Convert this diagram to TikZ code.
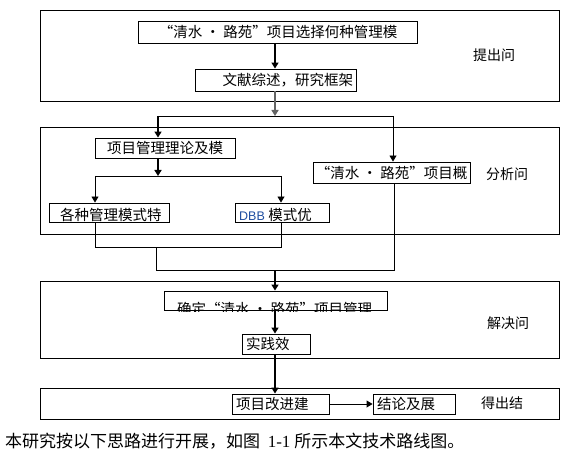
\documentclass[tikz,border=0pt]{standalone}
\usepackage{fontspec}
\setmainfont{Liberation Sans}
\newfontfamily\cjk{Noto Sans CJK SC}
\usetikzlibrary{arrows.meta}
\definecolor{dbbblue}{RGB}{31,78,160}
\definecolor{arrgray}{RGB}{100,100,100}
\begin{document}
\begin{tikzpicture}[x=1pt,y=-1pt,
  frame/.style={draw, line width=0.9pt, inner sep=0},
  box/.style={draw, line width=0.9pt, inner sep=0, font=\cjk\fontsize{14.5}{15}\selectfont},
  txt/.style={inner sep=0, font=\cjk\fontsize{14.5}{15}\selectfont},
  side/.style={inner sep=0, font=\cjk\fontsize{14}{15}\selectfont},
  thickarr/.style={line width=1.8pt, -{Triangle[width=7pt,length=6pt]}},
  thinarr/.style={line width=0.9pt, -{Triangle[width=7pt,length=6pt]}},
  thinline/.style={line width=0.9pt}]
\useasboundingbox (0,0) rectangle (564,454);

% frames
\node[frame, minimum width=519pt, minimum height=91pt] (f1) at (299.5,55.5) {};
\node[frame, minimum width=519pt, minimum height=107pt] (f2) at (299.5,180.5) {};
\node[frame, minimum width=519pt, minimum height=77pt] (f3) at (299.5,320.3) {};
\node[frame, minimum width=519pt, minimum height=31pt] (f4) at (299.5,403.5) {};

% side labels
\node[side] (l1) at (494,55) {提出问};
\node[side] (l2) at (507,174) {分析问};
\node[side] (l3) at (508,323) {解决问};
\node[side] (l4) at (502,403) {得出结};

% boxes
\node[box, minimum width=279pt, minimum height=22pt] (n1) at (278,32) {“清水 · 路苑”项目选择何种管理模};
\node[box, minimum width=161pt, minimum height=22pt, text width=155pt, align=right] (n2) at (275.5,80) {文献综述，研究框架};
\node[box, minimum width=140pt, minimum height=20pt] (n3) at (165,148) {项目管理理论及模};
\node[box, minimum width=157pt, minimum height=21pt] (n4) at (391.5,172.5) {“清水 · 路苑”项目概};
\node[box, minimum width=120pt, minimum height=19pt] (n5) at (109,212.5) {};
\node[box, minimum width=94pt, minimum height=19pt] (n6) at (282,212.5) {};
\node[box, minimum width=223pt, minimum height=19.6pt] (n7) at (275.5,300.8) {};
\node[box, minimum width=68pt, minimum height=20pt, text width=60pt, align=left] (n8) at (276,344) {实践效};
\node[box, minimum width=97pt, minimum height=20pt, text width=89pt, align=left] (n9) at (280.5,404) {项目改进建};
\node[box, minimum width=82pt, minimum height=20pt, text width=74pt, align=left] (n10) at (414,404) {结论及展};

% clipped texts
\begin{scope}
\clip (n5.north west) rectangle (n5.south east);
\node[txt, anchor=base west] (t5) at (60,221) {各种管理模式特};
\end{scope}
\begin{scope}
\clip (n6.north west) rectangle (n6.south east);
\node[txt, anchor=base west] (t6) at (239,221) {\fontspec{Liberation Sans}\fontsize{12.5}{13}\selectfont\color{dbbblue}DBB\ \cjk\fontsize{14.5}{15}\selectfont\color{black}模式优};
\end{scope}
\begin{scope}
\clip (n7.north west) rectangle (n7.south east);
\node[txt, anchor=base west] (t7) at (177,314) {确定“清水 · 路苑”项目管理};
\end{scope}

% coordinates
\coordinate (s1) at (275,116);
\coordinate (s1l) at (158,116);
\coordinate (s1r) at (393,116);
\coordinate (s2) at (158,176);
\coordinate (s2l) at (95,176);
\coordinate (s2r) at (281,176);
\coordinate (m1l) at (95,247);
\coordinate (m1r) at (281,247);
\coordinate (m1c) at (156,247);
\coordinate (m2l) at (156,270);
\coordinate (m2r) at (394,270);
\coordinate (m2c) at (275,270);
\coordinate (cx) at (275,0);

% connectors
\draw[thickarr] (n1.south -| cx) -- (n2.north -| cx);
\draw[thickarr, arrgray] (n2.south -| cx) -- (s1);
\draw[thinline] (s1l) -- (s1r);
\draw[thickarr] (s1l) -- (n3.north -| s1l);
\draw[thinarr] (s1r) -- (n4.north -| s1r);
\draw[thickarr] (n3.south -| s2) -- (s2);
\draw[thinline] (s2l) -- (s2r);
\draw[thinarr] (s2l) -- (n5.north -| s2l);
\draw[thinarr] (s2r) -- (n6.north -| s2r);
\draw[thinline] (n5.south -| m1l) -- (m1l) -- (m1r) -- (n6.south -| m1r);
\draw[thinline] (m1c) -- (m2l) -- (m2r) -- (n4.south -| m2r);
\draw[thickarr] (m2c) -- (n7.north -| m2c);
\draw[thickarr] (n7.south -| cx) -- (n8.north -| cx);
\draw[thickarr] (n8.south -| cx) -- (n9.north -| cx);
\draw[thinarr] (n9.east) -- (n10.west);

% caption
\node[anchor=west, inner sep=0, font=\cjk\fontsize{17}{18}\selectfont] (cap) at (5,441) {本研究按以下思路进行开展，如图\ \ {\fontspec{Liberation Serif}1-1} 所示本文技术路线图。};
\end{tikzpicture}
\end{document}
